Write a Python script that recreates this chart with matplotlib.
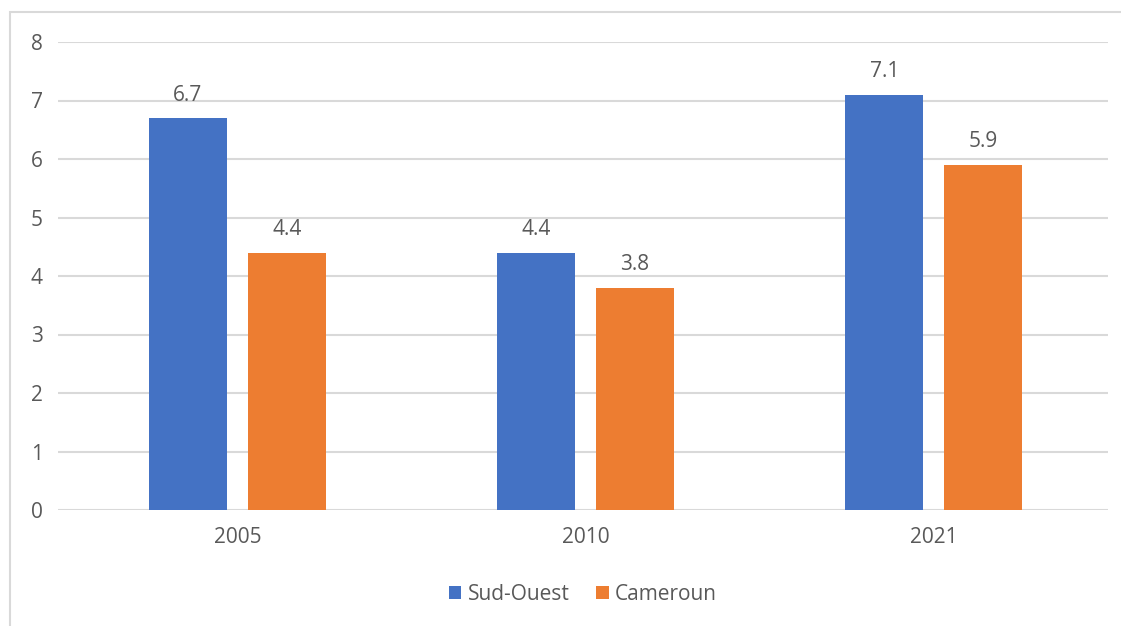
import matplotlib.pyplot as plt
import numpy as np
from matplotlib.patches import Rectangle

# données
annees = ['2005', '2010', '2021']
sud_ouest = [6.7, 4.4, 7.1]
cameroun = [4.4, 3.8, 5.9]
series = ['Sud-Ouest', 'Cameroun']

bleu = '#4472C4'
orange = '#ED7D31'
gris_texte = '#595959'
gris_grille = '#D9D9D9'

plt.rcParams['font.family'] = ['Open Sans', 'DejaVu Sans']
fs = 15

fig = plt.figure(figsize=(11.21, 6.26), dpi=100)
# cadre du graphique (coupé à droite et en bas)
fig.patches.append(Rectangle((10 / 1121, -0.01), 1.02, 1 - 12 / 626 + 0.01,
                             transform=fig.transFigure, fill=False,
                             edgecolor=gris_grille, linewidth=1.5))

ax = fig.add_axes([58 / 1121, 1 - 510 / 626, 1050 / 1121, (510 - 42) / 626])

x = np.arange(len(annees))
w = 0.224
b1 = ax.bar(x - 0.142, sud_ouest, w, color=bleu, label=series[0], zorder=3)
b2 = ax.bar(x + 0.142, cameroun, w, color=orange, label=series[1], zorder=3)
for bars in (b1, b2):
    ax.bar_label(bars, labels=[f'{v:.1f}' for v in bars.datavalues],
                 padding=9, fontsize=fs, color=gris_texte)

ax.set_xlim(-0.515, 2.5)
ax.set_ylim(0, 8)
ax.set_yticks(range(9))
ax.set_xticks(x)
ax.set_xticklabels(annees)
ax.tick_params(axis='both', length=0, labelsize=fs, labelcolor=gris_texte)
ax.tick_params(axis='y', pad=11)
ax.tick_params(axis='x', pad=12)
ax.yaxis.grid(True, color=gris_grille, linewidth=1.5, zorder=0)
for s in ax.spines.values():
    s.set_visible(False)

ax.legend(loc='center', bbox_to_anchor=(0.5, (594 - 510) / -468), ncol=2, frameon=False,
          fontsize=fs, labelcolor=gris_texte, handlelength=0.6, handleheight=0.6,
          handletextpad=0.3, columnspacing=1.3)

fig.savefig('out.png', dpi=100)
